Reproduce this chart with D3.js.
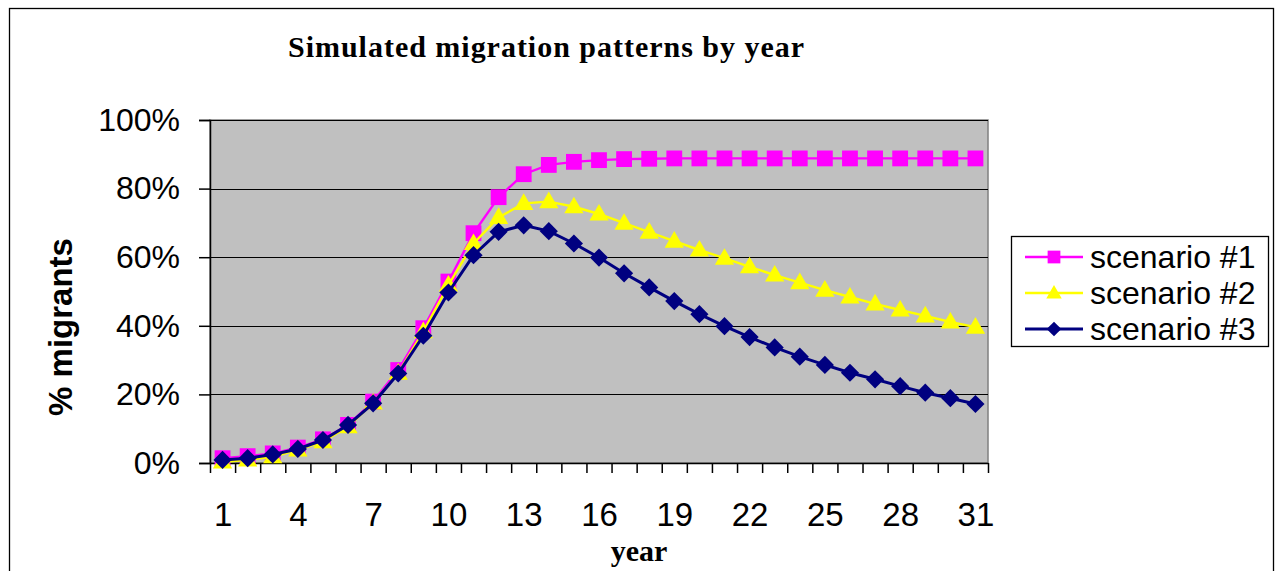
<!DOCTYPE html>
<html>
<head>
<meta charset="utf-8">
<script src="https://cdn.jsdelivr.net/npm/d3@7"></script>
<style>
  body { margin: 0; background: #fff; }
  svg { display: block; }
</style>
</head>
<body>
<svg></svg>
<script>
const width = 1275;
const height = 571;

// categories (years)
const years = [1, 2, 3, 4, 5, 6, 7, 8, 9, 10, 11, 12, 13, 14, 15, 16,
               17, 18, 19, 20, 21, 22, 23, 24, 25, 26, 27, 28, 29, 30, 31];
const yearLabels = [1, 4, 7, 10, 13, 16, 19, 22, 25, 28, 31];

// % migrants per year
const scenario1 = [1.4, 2.0, 2.8, 4.5, 6.9, 11.1, 17.9, 27.1, 39.3, 52.9, 67.0,
                   77.5, 84.2, 86.9, 87.8, 88.3, 88.6, 88.7, 88.8, 88.8, 88.8,
                   88.8, 88.8, 88.8, 88.8, 88.8, 88.8, 88.8, 88.8, 88.8, 88.8];
const scenario2 = [0.3, 0.9, 1.8, 3.8, 6.2, 10.6, 17.5, 26.2, 38.3, 51.9, 64.0,
                   71.6, 75.7, 76.2, 74.7, 72.6, 69.9, 67.3, 64.7, 62.1, 59.7,
                   57.2, 54.8, 52.6, 50.4, 48.4, 46.4, 44.6, 42.9, 41.1, 39.6];
const scenario3 = [0.9, 1.4, 2.5, 4.1, 6.7, 11.1, 17.4, 26.1, 37.1, 49.7, 60.6,
                   67.4, 69.3, 67.6, 64.0, 59.9, 55.3, 51.2, 47.2, 43.4, 39.9,
                   36.7, 33.7, 31.0, 28.6, 26.3, 24.4, 22.4, 20.5, 18.9, 17.2];
const yTicks = [0, 20, 40, 60, 80, 100];

const seriesNames = ['scenario #1', 'scenario #2', 'scenario #3'];
const seriesValues = [scenario1, scenario2, scenario3];
const seriesColors = ['#FF00FF', '#FFFF00', '#000080'];
const seriesShapes = ['square', 'triangle', 'diamond'];

const plot = {left: 210, right: 988, top: 120, bottom: 463};

const svg = d3.select('svg')
  .attr('width', width)
  .attr('height', height);

// chart area border
svg.append('rect')
  .attr('x', 9.5).attr('y', 8.5)
  .attr('width', 1264).attr('height', 700)
  .attr('fill', '#fff')
  .attr('stroke', '#000')
  .attr('stroke-width', 1.3);

// category axis: ticks sit between categories like Excel
const x = d3.scaleLinear()
  .domain([0.5, years.length + 0.5])
  .range([plot.left, plot.right]);
const y = d3.scaleLinear()
  .domain([0, 100])
  .range([plot.bottom, plot.top]);

// plot area
svg.append('rect')
  .attr('x', plot.left).attr('y', plot.top)
  .attr('width', plot.right - plot.left)
  .attr('height', plot.bottom - plot.top)
  .attr('fill', '#C0C0C0')
  .attr('stroke', '#808080')
  .attr('stroke-width', 1.5);

// gridlines
svg.append('g')
  .selectAll('line')
  .data(yTicks.slice(1))
  .enter()
  .append('line')
    .attr('x1', plot.left).attr('x2', plot.right)
    .attr('y1', d => Math.round(y(d)) + 0.5)
    .attr('y2', d => Math.round(y(d)) + 0.5)
    .style('stroke', '#000')
    .style('stroke-width', 1.2);

// y axis
const yAxis = svg.append('g')
  .attr('transform', `translate(${plot.left},0)`)
  .call(d3.axisLeft(y)
    .tickValues(yTicks)
    .tickSize(11)
    .tickPadding(19)
    .tickFormat(d => d + '%'));
yAxis.selectAll('text')
  .style('font-family', 'Arial, "Liberation Sans", sans-serif')
  .style('font-size', '32px')
  .attr('fill', '#000');
yAxis.selectAll('line, path').attr('stroke', '#000').attr('stroke-width', 1.5);

// x axis tick marks between categories
const xAxis = svg.append('g')
  .attr('transform', `translate(0,${plot.bottom})`)
  .call(d3.axisBottom(x)
    .tickValues(d3.range(0.5, years.length + 1, 1))
    .tickSize(10)
    .tickSizeOuter(0)
    .tickFormat(''));
xAxis.selectAll('line, path').attr('stroke', '#000').attr('stroke-width', 1.5);

// x tick labels every third year
const xLabels = svg.append('g')
  .attr('transform', `translate(0,${plot.bottom})`)
  .call(d3.axisBottom(x)
    .tickValues(yearLabels)
    .tickSize(0)
    .tickPadding(40)
    .tickFormat(d => d));
xLabels.select('.domain').remove();
xLabels.selectAll('text')
  .style('font-family', 'Arial, "Liberation Sans", sans-serif')
  .style('font-size', '33px')
  .attr('fill', '#000');

// marker path per shape
function markerPath(shape, scale) {
  if (shape === 'square') return d3.symbol(d3.symbolSquare, 250 * scale)();
  if (shape === 'triangle') return d3.symbol(d3.symbolTriangle, 160 * scale)();
  return d3.symbol(d3.symbolSquare, 165 * scale)();
}
function markerTransform(shape, px, py) {
  if (shape === 'diamond') return `translate(${px},${py}) rotate(45)`;
  if (shape === 'triangle') return `translate(${px},${py + 1})`;
  return `translate(${px},${py})`;
}

const line = d3.line()
  .x((d, i) => x(years[i]))
  .y(d => y(d));

seriesValues.forEach((vals, k) => {
  const g = svg.append('g').classed('series', true);
  g.append('path')
    .datum(vals)
    .attr('d', line)
    .attr('fill', 'none')
    .attr('stroke', seriesColors[k])
    .attr('stroke-width', k === 2 ? 3 : 2.4);
  g.selectAll('path.pt')
    .data(vals)
    .enter()
    .append('path')
      .classed('pt', true)
      .attr('d', markerPath(seriesShapes[k], 1))
      .attr('fill', seriesColors[k])
      .attr('transform', (d, i) => markerTransform(seriesShapes[k], x(years[i]), y(d)));
});

// title
svg.append('text')
  .attr('x', 546).attr('y', 57)
  .attr('text-anchor', 'middle')
  .attr('textLength', 516)
  .attr('lengthAdjust', 'spacing')
  .style('font-family', '"Times New Roman", "Liberation Serif", serif')
  .style('font-weight', 'bold')
  .style('font-size', '30px')
  .text('Simulated migration patterns by year');

// x axis title
svg.append('text')
  .attr('x', 639).attr('y', 561)
  .attr('text-anchor', 'middle')
  .style('font-family', '"Times New Roman", "Liberation Serif", serif')
  .style('font-weight', 'bold')
  .style('font-size', '30px')
  .text('year');

// y axis title
svg.append('text')
  .attr('transform', 'translate(72,327) rotate(-90)')
  .attr('text-anchor', 'middle')
  .style('font-family', 'Arial, "Liberation Sans", sans-serif')
  .style('font-weight', 'bold')
  .style('font-size', '33px')
  .text('% migrants');

// legend
const legend = svg.append('g');
legend.append('rect')
  .attr('x', 1011.5).attr('y', 236.5)
  .attr('width', 257).attr('height', 110)
  .attr('fill', '#fff')
  .attr('stroke', '#000')
  .attr('stroke-width', 1.3);

const legendY = [257, 293, 329];
seriesNames.forEach((name, k) => {
  const ly = legendY[k];
  legend.append('line')
    .attr('x1', 1025).attr('x2', 1083)
    .attr('y1', ly).attr('y2', ly)
    .attr('stroke', seriesColors[k])
    .attr('stroke-width', k === 2 ? 3 : 2.4);
  legend.append('path')
    .attr('d', markerPath(seriesShapes[k], 0.65))
    .attr('fill', seriesColors[k])
    .attr('transform', markerTransform(seriesShapes[k], 1054, ly));
  legend.append('text')
    .attr('x', 1090).attr('y', ly + 11)
    .style('font-family', 'Arial, "Liberation Sans", sans-serif')
    .style('font-size', '32px')
    .text(name);
});
</script>
</body>
</html>
